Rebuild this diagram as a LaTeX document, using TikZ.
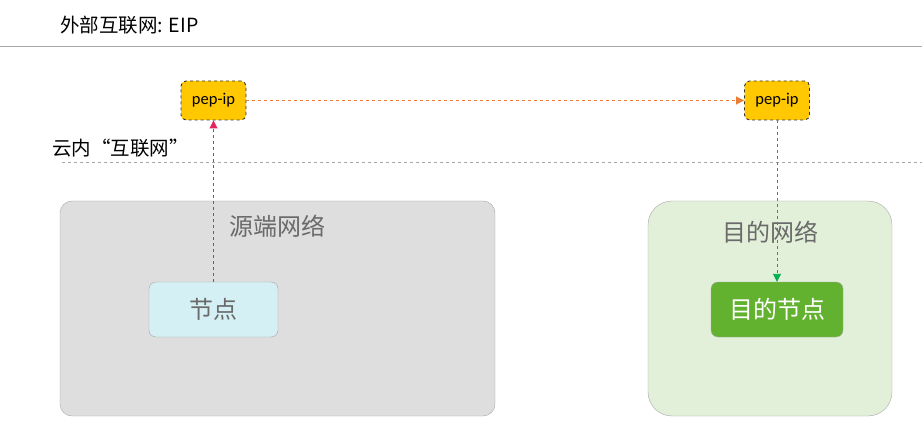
\documentclass[tikz,border=0pt]{standalone}
\usepackage{fontspec}
\setmainfont{Carlito}
\newfontfamily\cjk{Noto Sans CJK SC}
\usetikzlibrary{positioning}
\usetikzlibrary{arrows.meta}

\definecolor{pepgold}{HTML}{FFC800}
\definecolor{srcgray}{HTML}{DEDEDE}
\definecolor{dstgreen}{HTML}{E2F0D9}
\definecolor{nodecyan}{HTML}{D4F0F4}
\definecolor{nodegreen}{HTML}{63B22F}
\definecolor{txtgray}{HTML}{6A6A6A}
\definecolor{linegray}{HTML}{A6A6A6}
\definecolor{arrred}{HTML}{E5245C}
\definecolor{arrorange}{HTML}{ED7D31}
\definecolor{arrgreen}{HTML}{00B050}

\begin{document}
\begin{tikzpicture} [
    x=1pt, y=-1pt,
    pep/.style = {draw=black!80, dashed, line width=0.9pt, fill=pepgold, rounded corners=5pt,
                  minimum width=65pt, minimum height=39pt,
                  font=\fontsize{16.5}{18}\selectfont},
    net/.style = {draw=linegray, rounded corners=#1, minimum height=215pt},
    host/.style = {draw=linegray, rounded corners=7pt, minimum height=55pt,
                   font=\cjk\fontsize{24}{26}\selectfont},
    title/.style = {font=\cjk\fontsize{24}{26}\selectfont, text=txtgray, inner sep=0pt},
    zone/.style = {font=\cjk\fontsize{19.5}{21}\selectfont, anchor=west, inner sep=0pt},
    flow/.style = {dashed, line width=0.9pt, -{Triangle[length=8pt,width=8pt]}}
    ]
    \useasboundingbox (0,0) rectangle (922,433);

    % zones
    \node[zone] (eip) at (60,25) {外部互联网: EIP};
    \node[zone] (cloud) at (52,148) {云内“互联网”};
    \coordinate (eipL) at (0,47);
    \coordinate (eipR) at (922,47);
    \coordinate (cloudL) at (62,162);
    \coordinate (cloudR) at (922,162);
    \draw[linegray, line width=1pt] (eipL) -- (eipR);
    \draw[linegray, dashed, line width=0.8pt] (cloudL) -- (cloudR);

    % networks
    \node[net=12pt, fill=srcgray, minimum width=435pt] (src) at (277.5,308.5) {};
    \node[net=24pt, fill=dstgreen, minimum width=244pt] (dst) at (770,308.5) {};
    \node[title, below=14pt of src.north] (srcT) {源端网络};
    \node[title, below=20pt of dst.north] (dstT) {目的网络};

    % hosts
    \node[host, fill=nodecyan, text=txtgray, minimum width=129pt] (n1) at (213.5,309.5) {节点};
    \node[host, fill=nodegreen, text=white, minimum width=132pt] (n2) at (777,309.5) {目的节点};

    % pep-ip
    \node[pep] (p1) at (213.5,100.5) {pep-ip};
    \node[pep] (p2) at (777,100.5) {pep-ip};

    \draw[flow, arrred] (n1.north) -- (p1.south);
    \draw[flow, arrorange] (p1.east) -- (p2.west);
    \draw[flow, arrgreen] (p2.south) -- (n2.north);
  \end{tikzpicture}
\end{document}
